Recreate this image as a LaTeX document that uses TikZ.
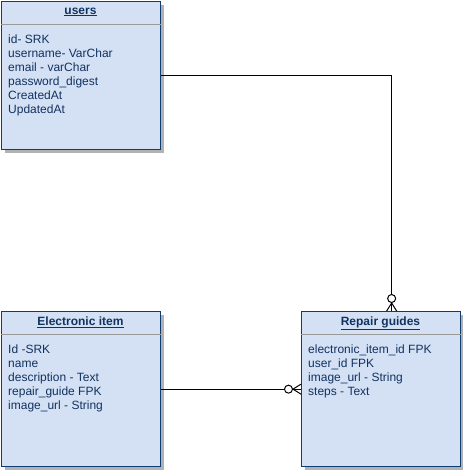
\documentclass[tikz,border=0pt]{standalone}
\usepackage{fontspec}
\setmainfont{Liberation Sans}
\usetikzlibrary{shadows}
\definecolor{tblfill}{HTML}{D4E1F5}
\definecolor{tblline}{HTML}{0F3D70}
\definecolor{tbltext}{HTML}{12325F}
\definecolor{hdrline}{HTML}{9A9A9A}
\tikzset{
  table/.style={rectangle, draw=tblline, line width=1.3pt, fill=tblfill,
    anchor=north west, inner sep=0pt, minimum width=159pt, minimum height=155pt,
    drop shadow={shadow xshift=3pt, shadow yshift=-3pt, fill=black, opacity=0.3}},
  title/.style={anchor=base, inner sep=0pt, text=tbltext,
    font=\fontsize{12}{14}\selectfont\bfseries},
  field/.style={anchor=base west, inner sep=0pt, text=tbltext,
    font=\fontsize{12}{14}\selectfont},
  hdr/.style={draw=hdrline, line width=1pt},
  rel/.style={draw=black, line width=1pt},
  zeromany/.pic={
    \draw[rel] (-8,0) -- (0,-5);
    \draw[rel] (-8,0) -- (0,5);
    \draw[rel, fill=white] (-12.5,0) circle[radius=4];
  }
}
\begin{document}
\begin{tikzpicture}[x=1pt, y=-1pt]
  \useasboundingbox (0,0) rectangle (463,472);

  % users table
  \node[table, minimum height=148pt] (users) at (1,1) {};
  \draw[hdr] ([yshift=-23pt]users.north west) -- ([yshift=-23pt]users.north east);
  \node[title] (usersT) at (80.5,14) {\underline{users}};
  \foreach \t [count=\i] in {id- SRK, username- VarChar, email - varChar,
      password\_digest, CreatedAt, UpdatedAt}
    \node[field, name=u\i] at (8,{43+14*(\i-1)}) {\t};

  % electronic item table
  \node[table] (elec) at (1,311) {};
  \draw[hdr] ([yshift=-23pt]elec.north west) -- ([yshift=-23pt]elec.north east);
  \node[title] (elecT) at (80.5,325.5) {\underline{Electronic item}};
  \foreach \t [count=\i] in {Id -SRK, name, description - Text,
      repair\_guide FPK, image\_url - String}
    \node[field, name=e\i] at (8,{353.5+14*(\i-1)}) {\t};

  % repair guides table
  \node[table] (guides) at (301,311) {};
  \draw[hdr] ([yshift=-23pt]guides.north west) -- ([yshift=-23pt]guides.north east);
  \node[title] (guidesT) at (380.5,325.5) {\underline{Repair guides}};
  \foreach \t [count=\i] in {electronic\_item\_id FPK, user\_id FPK,
      image\_url - String, steps - Text}
    \node[field, name=g\i] at (308,{353+14*(\i-1)}) {\t};

  % relationships
  \coordinate (gtop) at ([xshift=10.5pt]guides.north);
  \draw[rel] (users.east) -| (gtop);
  \pic[rotate=-90] at (gtop) {zeromany};
  \draw[rel] (elec.east) -- (guides.west);
  \pic at (guides.west) {zeromany};
\end{tikzpicture}
\end{document}
